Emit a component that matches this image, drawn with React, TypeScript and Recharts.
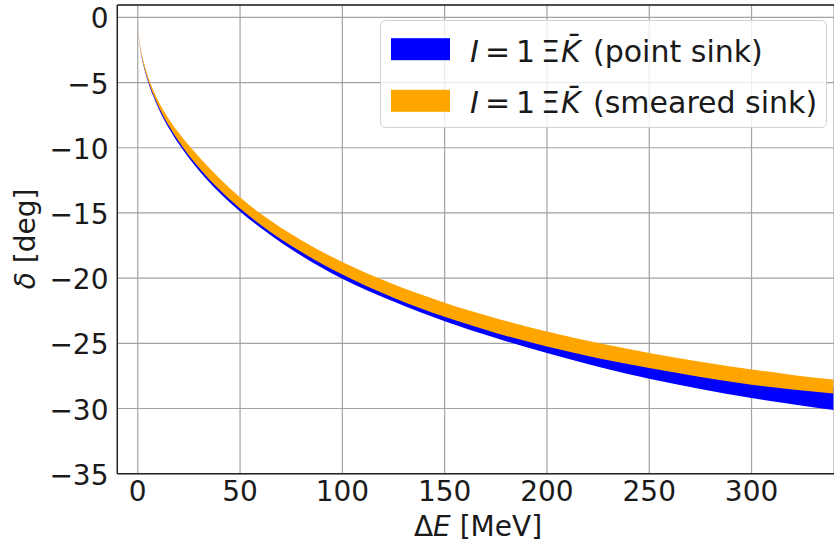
import React from 'react';
import { ComposedChart, Area, XAxis, YAxis, CartesianGrid, ReferenceLine } from 'recharts';

const energies = [0, 0.25, 0.5, 1, 2, 3, 5, 7.5, 10, 15, 20, 30, 40, 50, 60, 80, 100, 125, 150, 175, 200, 225, 250, 275, 300, 320, 340];
const pointLow = [0, -1.11, -1.57, -2.21, -3.13, -3.83, -4.93, -6.02, -6.93, -8.45, -9.7, -11.76, -13.45, -14.88, -16.14, -18.28, -20.05, -21.8, -23.3, -24.6, -25.75, -26.8, -27.72, -28.5, -29.2, -29.68, -30.12];
const pointHigh = [0, -1.06, -1.5, -2.13, -3.0, -3.67, -4.73, -5.78, -6.66, -8.12, -9.33, -11.33, -12.95, -14.33, -15.55, -17.6, -19.26, -21.0, -22.43, -23.65, -24.68, -25.57, -26.33, -27.0, -27.6, -28.0, -28.33];
const smearedLow = [0, -1.08, -1.53, -2.16, -3.05, -3.73, -4.8, -5.87, -6.77, -8.26, -9.5, -11.55, -13.22, -14.65, -15.9, -18.0, -19.72, -21.5, -22.97, -24.2, -25.25, -26.15, -26.9, -27.58, -28.17, -28.55, -28.85];
const smearedHigh = [0, -0.98, -1.39, -1.98, -2.82, -3.48, -4.52, -5.55, -6.4, -7.75, -8.85, -10.7, -12.35, -13.8, -15.05, -17.1, -18.77, -20.47, -21.88, -23.07, -24.1, -24.98, -25.74, -26.41, -27.0, -27.42, -27.78];

const xTicks = [0, 50, 100, 150, 200, 250, 300];
const yTicks = [-35, -30, -25, -20, -15, -10, -5, 0];
const xDomain = [-10, 340.3];
const yDomain = [-35, 0.95];

const seriesNames = ['(point sink)', '(smeared sink)'];
const seriesColors = ['#0000ff', '#ffa500'];

const data = energies.map((e, i) => ({
  e,
  point: [pointLow[i], pointHigh[i]],
  smeared: [smearedLow[i], smearedHigh[i]],
}));

const FONT = '"DejaVu Sans", sans-serif';
const TXT = '#1a1a1a';
const fmt = (v: number) => (v < 0 ? '\u2212' + Math.abs(v) : String(v));

const XTick = (props: any) => {
  const { x, payload } = props;
  return (
    <text x={x} y={500.5} textAnchor="middle" fontSize={28} fontFamily={FONT} fill={TXT}>
      {fmt(payload.value)}
    </text>
  );
};

const YTick = (props: any) => {
  const { y, payload } = props;
  return (
    <text x={108.5} y={y} dy={11} textAnchor="end" fontSize={28} fontFamily={FONT} fill={TXT}>
      {fmt(payload.value)}
    </text>
  );
};

const XTitle = () => (
  <text x={478} y={536} textAnchor="middle" fontSize={28} fontFamily={FONT} fill={TXT}>
    <tspan>Δ</tspan>
    <tspan fontStyle="italic">E</tspan>
    <tspan> [MeV]</tspan>
  </text>
);

const YTitle = () => (
  <text transform="translate(35,239) rotate(-90)" x={0} y={0} textAnchor="middle" fontSize={28} fontFamily={FONT} fill={TXT}>
    <tspan fontStyle="italic">δ</tspan>
    <tspan> [deg]</tspan>
  </text>
);

const LegendRow = ({ color, name, cy }: { color: string; name: string; cy: number }) => {
  const base = cy + 12.3;
  const fs = 30;
  return (
    <g>
      <rect x={391} y={cy - 11} width={59} height={22} fill={color} />
      <text y={base} fontSize={fs} fontFamily={FONT} fill={TXT}>
        <tspan x={470} fontStyle="italic">I</tspan>
        <tspan x={485}>=</tspan>
        <tspan x={516}>1</tspan>
        <tspan x={541}>Ξ</tspan>
        <tspan x={561} fontStyle="italic">{'K\u0304'}</tspan>
        <tspan x={593}>{name}</tspan>
      </text>
    </g>
  );
};

export default function App() {
  return (
    <div style={{ position: 'absolute', left: 0, top: 0, width: 834, height: 547, background: '#fff', overflow: 'hidden' }}>
      <ComposedChart width={834} height={547} data={data} margin={{ top: 5, right: 0, bottom: 0, left: 0 }}>
        <CartesianGrid stroke="#a3a3a3" strokeWidth={1.2} />
        <XAxis
          dataKey="e"
          type="number"
          domain={xDomain}
          ticks={xTicks}
          allowDataOverflow
          height={73.3}
          tick={<XTick />}
          tickLine={false}
          axisLine={{ stroke: '#222', strokeWidth: 1.4 }}
          label={<XTitle />}
        />
        <YAxis
          type="number"
          domain={yDomain}
          ticks={yTicks}
          allowDataOverflow
          width={117.3}
          tick={<YTick />}
          tickLine={false}
          axisLine={{ stroke: '#222', strokeWidth: 1.4 }}
          label={<YTitle />}
        />
        <ReferenceLine y={yDomain[1]} stroke="#222" strokeWidth={1.4} />
        <Area
          type="monotone"
          dataKey="point"
          stroke="none"
          fill={seriesColors[0]}
          fillOpacity={1}
          isAnimationActive={false}
        />
        <Area
          type="monotone"
          dataKey="smeared"
          stroke="none"
          fill={seriesColors[1]}
          fillOpacity={1}
          isAnimationActive={false}
        />
      </ComposedChart>
      <svg width={834} height={547} style={{ position: 'absolute', left: 0, top: 0 }}>
        <rect x={380.5} y={20.5} width={446} height={107} rx={5} ry={5} fill="#ffffff" fillOpacity={0.8} stroke="#d2d2d2" strokeWidth={1} />
        <LegendRow color={seriesColors[0]} name={seriesNames[0]} cy={49.2} />
        <LegendRow color={seriesColors[1]} name={seriesNames[1]} cy={100.8} />
      </svg>
    </div>
  );
}
